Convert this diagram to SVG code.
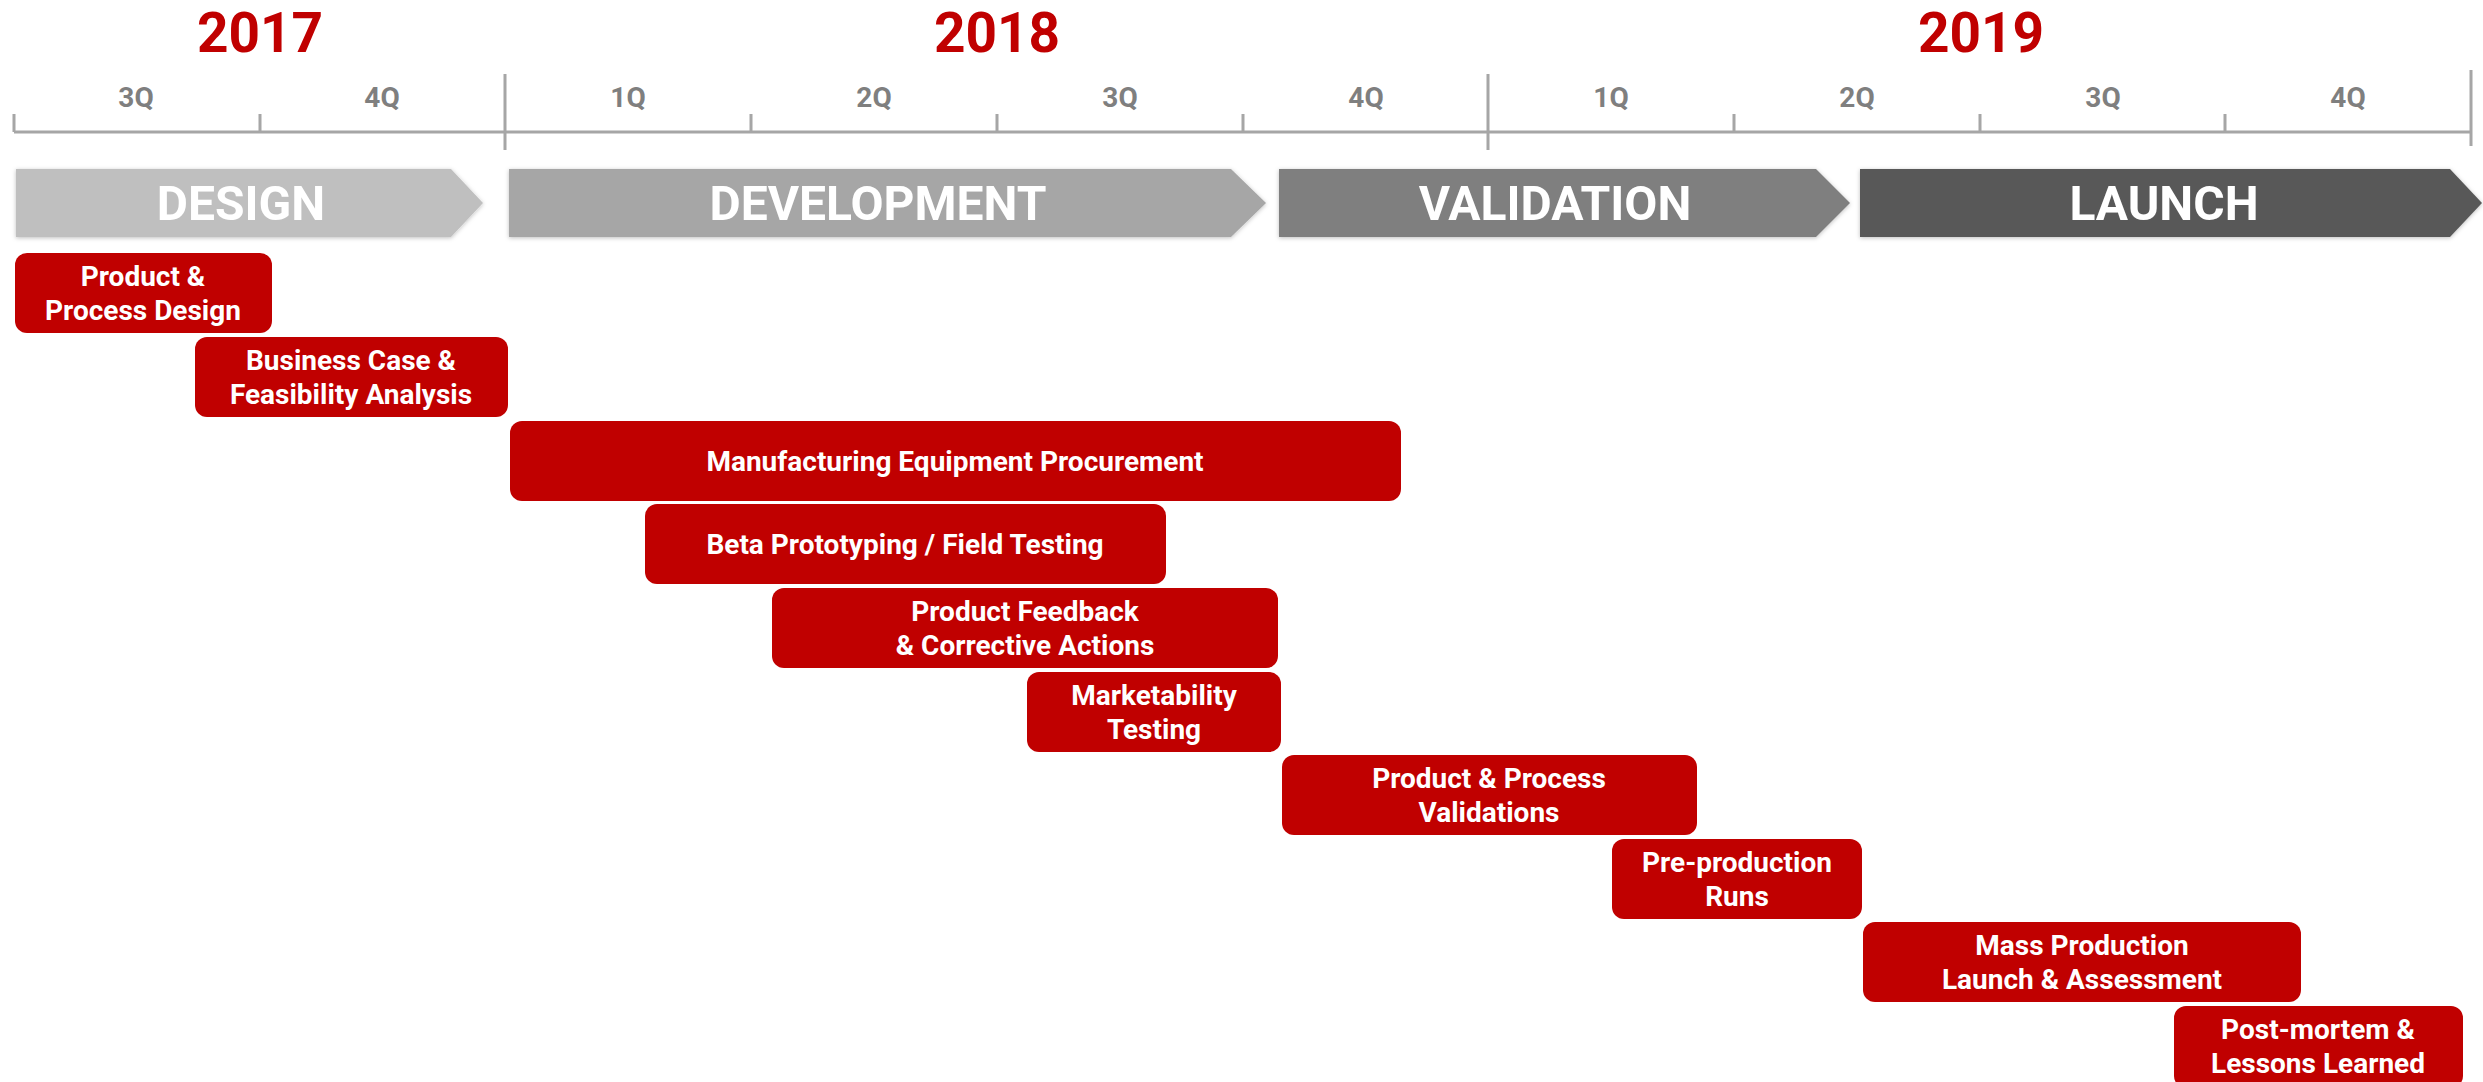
<svg xmlns="http://www.w3.org/2000/svg" width="2483" height="1082" viewBox="0 0 2483 1082">
<defs>
<filter id="sh" x="-5%" y="-20%" width="110%" height="140%">
<feDropShadow dx="0" dy="1" stdDeviation="2" flood-color="#000" flood-opacity="0.25"/>
</filter>
<style>
.yr{font-family:Roboto,"Liberation Sans",sans-serif;font-weight:700;font-size:55px;fill:#c00000;text-anchor:middle}
.q{font-family:Roboto,"Liberation Sans",sans-serif;font-weight:700;font-size:28px;fill:#7f7f7f;text-anchor:middle}
.ax{stroke:#a6a6a6;stroke-width:3;fill:none}
.ph{font-family:Roboto,"Liberation Sans",sans-serif;font-weight:700;font-size:48px;fill:#fff;text-anchor:middle}
.bx{fill:#c00000}
.bt{font-family:Roboto,"Liberation Sans",sans-serif;font-weight:700;font-size:28px;fill:#fff;text-anchor:middle}
</style>
</defs>
<rect width="2483" height="1082" fill="#fff"/>
<g id="years">
<text class="yr" x="260" y="52">2017</text>
<text class="yr" x="997" y="52">2018</text>
<text class="yr" x="1981" y="52">2019</text>
</g>
<g id="axis">
<line class="ax" x1="14" y1="132" x2="2471" y2="132"/>
<path class="ax" d="M14,114V132M260,114V132M751,114V132M997,114V132M1243,114V132M1734,114V132M1980,114V132M2225,114V132M505,74V150M1488,74V150M2471,70V146"/>
<text class="q" x="136" y="107">3Q</text>
<text class="q" x="382" y="107">4Q</text>
<text class="q" x="628" y="107">1Q</text>
<text class="q" x="874" y="107">2Q</text>
<text class="q" x="1120" y="107">3Q</text>
<text class="q" x="1366" y="107">4Q</text>
<text class="q" x="1611" y="107">1Q</text>
<text class="q" x="1857" y="107">2Q</text>
<text class="q" x="2103" y="107">3Q</text>
<text class="q" x="2348" y="107">4Q</text>
</g>
<g id="phase-design" filter="url(#sh)">
<polygon points="16,169 451,169 483,203 451,237 16,237" fill="#bfbfbf"/>
<text class="ph" x="241" y="220">DESIGN</text>
</g>
<g id="phase-development" filter="url(#sh)">
<polygon points="509,169 1231,169 1266,203 1231,237 509,237" fill="#a6a6a6"/>
<text class="ph" x="878" y="220">DEVELOPMENT</text>
</g>
<g id="phase-validation" filter="url(#sh)">
<polygon points="1279,169 1816,169 1850,203 1816,237 1279,237" fill="#7f7f7f"/>
<text class="ph" x="1555" y="220">VALIDATION</text>
</g>
<g id="phase-launch" filter="url(#sh)">
<polygon points="1860,169 2450,169 2482,203 2450,237 1860,237" fill="#595959"/>
<text class="ph" x="2164" y="220">LAUNCH</text>
</g>
<g id="task1"><rect class="bx" x="15" y="253" width="257" height="80" rx="12"/>
<text class="bt" x="143" y="286">Product &amp;</text><text class="bt" x="143" y="320">Process Design</text></g>
<g id="task2"><rect class="bx" x="195" y="337" width="313" height="80" rx="12"/>
<text class="bt" x="351" y="370">Business Case &amp;</text><text class="bt" x="351" y="404">Feasibility Analysis</text></g>
<g id="task3"><rect class="bx" x="510" y="421" width="891" height="80" rx="12"/>
<text class="bt" x="955" y="471">Manufacturing Equipment Procurement</text></g>
<g id="task4"><rect class="bx" x="645" y="504" width="521" height="80" rx="12"/>
<text class="bt" x="905" y="554">Beta Prototyping / Field Testing</text></g>
<g id="task5"><rect class="bx" x="772" y="588" width="506" height="80" rx="12"/>
<text class="bt" x="1025" y="621">Product Feedback</text><text class="bt" x="1025" y="655">&amp; Corrective Actions</text></g>
<g id="task6"><rect class="bx" x="1027" y="672" width="254" height="80" rx="12"/>
<text class="bt" x="1154" y="705">Marketability</text><text class="bt" x="1154" y="739">Testing</text></g>
<g id="task7"><rect class="bx" x="1282" y="755" width="415" height="80" rx="12"/>
<text class="bt" x="1489" y="788">Product &amp; Process</text><text class="bt" x="1489" y="822">Validations</text></g>
<g id="task8"><rect class="bx" x="1612" y="839" width="250" height="80" rx="12"/>
<text class="bt" x="1737" y="872">Pre-production</text><text class="bt" x="1737" y="906">Runs</text></g>
<g id="task9"><rect class="bx" x="1863" y="922" width="438" height="80" rx="12"/>
<text class="bt" x="2082" y="955">Mass Production</text><text class="bt" x="2082" y="989">Launch &amp; Assessment</text></g>
<g id="task10"><rect class="bx" x="2174" y="1006" width="289" height="82" rx="12"/>
<text class="bt" x="2318" y="1039">Post-mortem &amp;</text><text class="bt" x="2318" y="1073">Lessons Learned</text></g>
</svg>
